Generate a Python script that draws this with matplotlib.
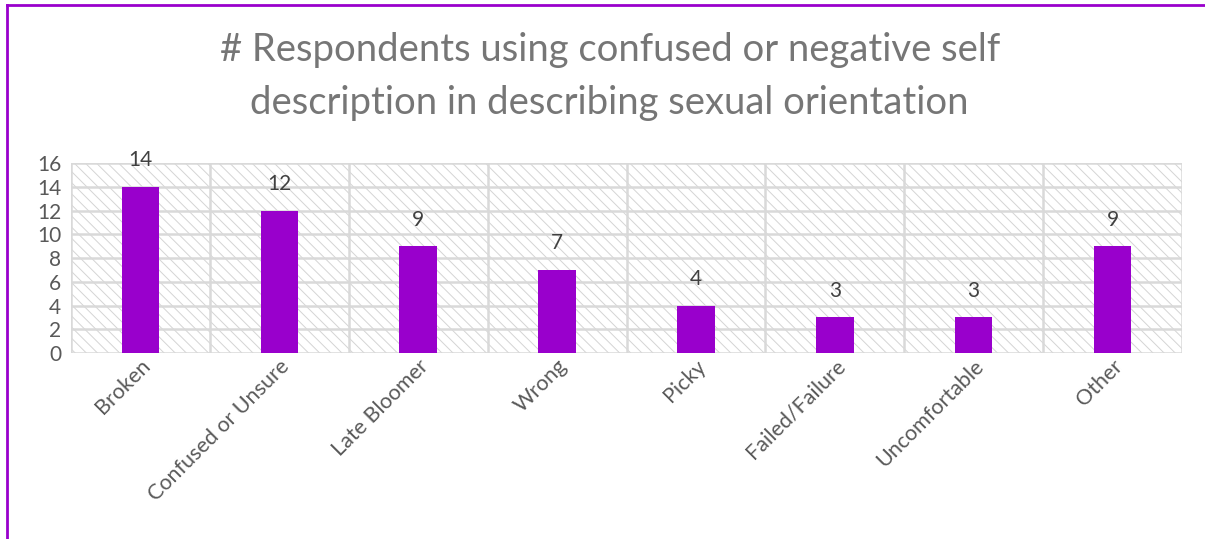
import matplotlib.pyplot as plt
import numpy as np
from matplotlib.patches import Rectangle

# Chart data
categories = ["Broken", "Confused or Unsure", "Late Bloomer", "Wrong",
              "Picky", "Failed/Failure", "Uncomfortable", "Other"]
counts = [14, 12, 9, 7, 4, 3, 3, 9]
y_ticks = [0, 2, 4, 6, 8, 10, 12, 14, 16]

BAR = "#9900CC"
GRID = "#d9d9d9"
TEXT = "#595959"

plt.rcParams["font.family"] = ["Lato", "DejaVu Sans"]
plt.rcParams["hatch.linewidth"] = 0.7
plt.rcParams["hatch.color"] = "#d4d4d4"

fig = plt.figure(figsize=(12.05, 5.39), dpi=100)
ax = fig.add_axes([71 / 1205, 1 - 353 / 539, (1182 - 71) / 1205, (353 - 163) / 539])

x = np.arange(len(categories))
ax.set_xlim(-0.5, len(categories) - 0.5)
ax.set_ylim(0, 16)

# hatched plot background
ax.add_patch(Rectangle((0, 0), 1, 1, transform=ax.transAxes, facecolor="white",
                       edgecolor="#d4d4d4", hatch="\\\\\\", linewidth=0, zorder=0))

for yv in y_ticks:
    ax.axhline(yv, color=GRID, lw=1.8, zorder=1)
for xv in np.arange(-0.5, len(categories), 1):
    ax.axvline(xv, color=GRID, lw=1.8, zorder=1)

bars = ax.bar(x, counts, width=0.27, color=BAR, zorder=3)
for b, v in zip(bars, counts):
    ax.text(b.get_x() + b.get_width() / 2, v + 1.4, str(v), ha="center", va="bottom",
            fontsize=15, color="#404040", zorder=4)

ax.set_yticks(y_ticks)
ax.set_yticklabels([str(t) for t in y_ticks], fontsize=15, color=TEXT)
ax.set_xticks(x)
ax.set_xticklabels(categories, rotation=45, ha="right", rotation_mode="anchor",
                   fontsize=15.5, color=TEXT)
ax.tick_params(axis="y", length=0, pad=7)
ax.tick_params(axis="x", length=0, pad=2)
for lbl in ax.get_xticklabels():
    lbl.set_x(lbl.get_position()[0])
for s in ax.spines.values():
    s.set_visible(False)

fig.text(0.506, 1 - 50 / 539, "# Respondents using confused or negative self",
         ha="center", va="center", fontsize=27.5, color="#767676")
fig.text(0.506, 1 - 103 / 539, "description in describing sexual orientation",
         ha="center", va="center", fontsize=27.5, color="#767676")

# purple frame (left and top edges visible)
fig.add_artist(plt.Line2D([7 / 1205, 7 / 1205], [0, 1 - 5 / 539], color=BAR, lw=2,
                          transform=fig.transFigure))
fig.add_artist(plt.Line2D([7 / 1205, 1], [1 - 5 / 539, 1 - 5 / 539], color=BAR, lw=2,
                          transform=fig.transFigure))

fig.savefig("out.png", dpi=100)
